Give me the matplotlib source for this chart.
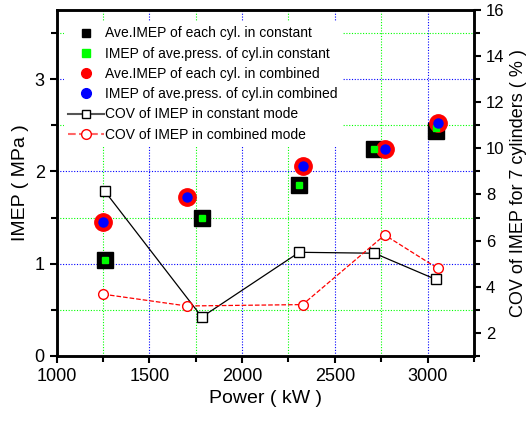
import matplotlib.pyplot as plt
import numpy as np
from matplotlib.ticker import MultipleLocator
from matplotlib.lines import Line2D

plt.rcParams['font.family'] = ['Liberation Sans', 'DejaVu Sans']

# constant mode
power_const = [1260, 1783, 2308, 2713, 3045]
imep_const_ave = [1.04, 1.50, 1.85, 2.24, 2.44]
imep_const_press = [1.04, 1.50, 1.85, 2.24, 2.47]
cov_const = [8.14, 2.68, 5.49, 5.45, 4.31]

# combined mode
power_comb = [1252, 1702, 2326, 2769, 3055]
imep_comb_ave = [1.45, 1.72, 2.06, 2.24, 2.53]
imep_comb_press = [1.45, 1.72, 2.06, 2.24, 2.53]
cov_comb = [3.67, 3.16, 3.22, 6.24, 4.79]

labels = ["Ave.IMEP of each cyl. in constant",
          "IMEP of ave.press. of cyl.in constant",
          "Ave.IMEP of each cyl. in combined",
          "IMEP of ave.press. of cyl.in combined",
          "COV of IMEP in constant mode",
          "COV of IMEP in combined mode"]

fig = plt.figure(figsize=(5.29, 4.23), dpi=100)
ax = fig.add_axes([0.107, 0.159, 0.789, 0.817])
ax2 = ax.twinx()

# grid: blue major, green minor (dotted)
ax.set_xlim(1000, 3250)
ax.set_ylim(0, 3.75)
ax.xaxis.set_major_locator(MultipleLocator(500))
ax.xaxis.set_minor_locator(MultipleLocator(250))
ax.yaxis.set_major_locator(MultipleLocator(1))
ax.yaxis.set_minor_locator(MultipleLocator(0.5))
ax.grid(which='major', color='#0000ff', linestyle=(0, (1, 1.5)), linewidth=0.8)
ax.grid(which='minor', color='#00ff00', linestyle=(0, (1, 1.5)), linewidth=0.8)
ax.set_axisbelow(True)

ax.plot(power_const, imep_const_ave, 's', color='black', markersize=11, zorder=3)
ax.plot(power_const, imep_const_press, 's', color='#00ff00', markersize=5, zorder=4)
ax.plot(power_comb, imep_comb_ave, 'o', color='red', markersize=12.5, zorder=3)
ax.plot(power_comb, imep_comb_press, 'o', color='blue', markersize=6.5, zorder=4)

ax2.set_ylim(1, 16)
ax2.yaxis.set_major_locator(MultipleLocator(2))
ax2.yaxis.set_minor_locator(MultipleLocator(1))
ax2.plot(power_const, cov_const, '-s', color='black', mfc='white', mec='black',
         markersize=6.5, linewidth=0.9)
ax2.plot(power_comb, cov_comb, '--o', color='red', mfc='white', mec='red',
         markersize=7, linewidth=0.9)

for a in (ax, ax2):
    for s in a.spines.values():
        s.set_linewidth(1.8)
    a.tick_params(which='both', direction='out', width=1.5, labelsize=13)
    a.tick_params(which='major', length=5)
    a.tick_params(which='minor', length=4)
ax2.tick_params(labelsize=12)

ax.set_xlabel("Power ( kW )", fontsize=14)
ax.set_ylabel("IMEP ( MPa )", fontsize=14)
ax2.set_ylabel("COV of IMEP for 7 cylinders ( % )", fontsize=13)

handles = [
    Line2D([], [], ls='none', marker='s', color='black', markersize=6),
    Line2D([], [], ls='none', marker='s', color='#00ff00', markersize=6),
    Line2D([], [], ls='none', marker='o', color='red', markersize=7),
    Line2D([], [], ls='none', marker='o', color='blue', markersize=7),
    Line2D([], [], ls='-', marker='s', color='#555555', mfc='white', mec='black',
           markersize=6, linewidth=1.5),
    Line2D([], [], ls='--', marker='o', color='#ff6666', mfc='white', mec='red',
           markersize=7, linewidth=1.5),
]
leg = ax2.legend(handles, labels, loc='upper left', bbox_to_anchor=(0.0, 0.985),
                 fontsize=10, frameon=True, framealpha=1, edgecolor='none',
                 fancybox=False, handlelength=2.6, handletextpad=0.1,
                 labelspacing=0.45, borderpad=0.3)

fig.savefig("out.png", dpi=100)
